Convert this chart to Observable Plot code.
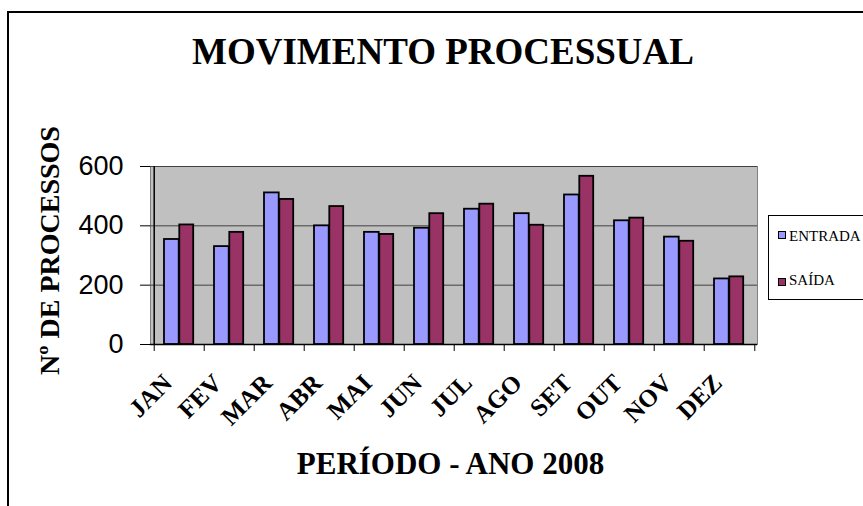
<!DOCTYPE html>
<html>
<head>
<meta charset="utf-8">
<script src="https://cdn.jsdelivr.net/npm/d3@7"></script>
<script src="https://cdn.jsdelivr.net/npm/@observablehq/plot@0.6"></script>
<style>
  html, body { margin: 0; padding: 0; background: #fff; overflow: hidden; }
  #wrap { position: relative; width: 863px; height: 506px; overflow: hidden; }
  #wrap svg { position: absolute; left: 0; top: 0; }
  #border { position: absolute; left: 7px; top: 11px; width: 854px; height: 600px;
            border-left: 2px solid #000; border-top: 2px solid #000; pointer-events: none; }
  #legend { position: absolute; left: 768px; top: 215px; width: 110px; height: 83px;
            border: 1px solid #000; background: #fff; font-family: "Liberation Serif", serif; font-size: 15px; }
  #legend .sw { position: absolute; left: 9px; width: 6px; height: 6px; border: 1px solid #000; }
  #legend .tx { position: absolute; left: 20px; line-height: 16px; white-space: nowrap; color: #000; }
</style>
</head>
<body>
<div id="wrap"></div>
<script>
const months = ["JAN","FEV","MAR","ABR","MAI","JUN","JUL","AGO","SET","OUT","NOV","DEZ"];
const entrada = [354, 330, 511, 400, 378, 392, 456, 441, 504, 417, 362, 221];
const saida   = [403, 378, 489, 465, 371, 441, 473, 402, 567, 426, 348, 228];
const seriesNames = ["ENTRADA", "SAÍDA"];
const seriesColors = ["#9999ff", "#993366"];
const yTicks = [0, 200, 400, 600];
const gridTicks = [200, 400, 600];

const rowsE = months.map((m, i) => ({month: m, value: entrada[i], series: seriesNames[0]}));
const rowsS = months.map((m, i) => ({month: m, value: saida[i], series: seriesNames[1]}));

const W = 863, H = 506;
const mL = 150, mR = 106, mT = 166, mB = 162;
const step = (W - mL - mR) / months.length;

const chart = Plot.plot({
  width: W, height: H,
  marginLeft: mL, marginRight: mR, marginTop: mT, marginBottom: mB,
  style: {fontFamily: "Liberation Serif", background: "transparent", color: "#000", overflow: "visible"},
  x: {domain: months, padding: 0, axis: null},
  y: {domain: [0, 600], axis: null},
  marks: [
    Plot.frame({fill: "#c0c0c0", stroke: "#808080"}),
    Plot.gridY(gridTicks, {stroke: "#404040", strokeOpacity: 1}),
    Plot.barY(rowsE, {x: "month", y: "value", fill: seriesColors[0], stroke: "#000", strokeWidth: 1.8,
      insetLeft: 10, insetRight: step / 2}),
    Plot.barY(rowsS, {x: "month", y: "value", fill: seriesColors[1], stroke: "#000", strokeWidth: 1.8,
      insetLeft: step / 2, insetRight: 10.8}),
    Plot.ruleY([0], {stroke: "#000", strokeWidth: 1.5}),
    Plot.ruleX([months[0]], {x: d => d, dx: -step / 2, stroke: "#000", strokeWidth: 1.5}),
    Plot.ruleX(months, {x: d => d, dx: -step / 2, y1: 0, y2: 0, insetBottom: -7, stroke: "#000"}),
    Plot.ruleX([months[months.length - 1]], {x: d => d, dx: step / 2, y1: 0, y2: 0, insetBottom: -7, stroke: "#000"}),
    Plot.axisY(yTicks, {tickSize: 10, tickPadding: 17, fontSize: 27, fontFamily: "Liberation Sans",
      tickFormat: d => String(d), label: null, stroke: "#000"}),
    Plot.text(months, {x: d => d, frameAnchor: "bottom", dx: -6, dy: 40, rotate: -45, textAnchor: "end",
      fontSize: 25, fontWeight: "bold", fill: "#000"}),
    Plot.text(["MOVIMENTO PROCESSUAL"], {frameAnchor: "top", textAnchor: "middle", dx: -11, dy: -103, lineAnchor: "bottom",
      fontSize: 37, fontWeight: "bold", fill: "#000"}),
    Plot.text(["PERÍODO - ANO 2008"], {frameAnchor: "bottom", textAnchor: "middle", dx: -3.5, dy: 129, lineAnchor: "bottom",
      fontSize: 31, fontWeight: "bold", fill: "#000"}),
    Plot.text(["Nº DE PROCESSOS"], {frameAnchor: "left", textAnchor: "middle", dx: -92, dy: -5, rotate: -90, lineAnchor: "bottom",
      fontSize: 28, fontWeight: "bold", fill: "#000"})
  ]
});

const wrap = document.getElementById("wrap");
wrap.appendChild(chart);

const border = document.createElement("div");
border.id = "border";
wrap.appendChild(border);

const legend = document.createElement("div");
legend.id = "legend";
const swTops = [15, 62];
const txTops = [12, 56];
seriesNames.forEach((name, i) => {
  const sw = document.createElement("div");
  sw.className = "sw";
  sw.style.top = swTops[i] + "px";
  sw.style.background = seriesColors[i];
  const tx = document.createElement("div");
  tx.className = "tx";
  tx.style.top = txTops[i] + "px";
  tx.textContent = name;
  legend.appendChild(sw);
  legend.appendChild(tx);
});
wrap.appendChild(legend);
</script>
</body>
</html>
